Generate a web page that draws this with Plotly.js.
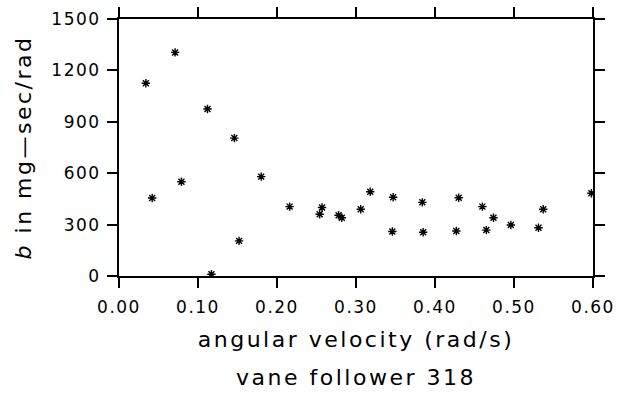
<!DOCTYPE html>
<html>
<head>
<meta charset="utf-8">
<script src="https://cdn.plot.ly/plotly-3.0.1.min.js"></script>
<style>
  html, body { margin: 0; padding: 0; background: #fff; }
  #chart { width: 626px; height: 393px; }
  .xtick text, .ytick text { letter-spacing: 1.5px; }
  .xtitle, .ytitle, .gtitle { letter-spacing: 2.5px; }
</style>
</head>
<body>
<div id="chart"></div>
<script>
// angular velocity (rad/s)
const angularVelocity = [0.034, 0.042, 0.071, 0.079, 0.112, 0.117, 0.146, 0.152, 0.180,
  0.216, 0.254, 0.257, 0.278, 0.282, 0.306, 0.318, 0.346, 0.347, 0.384, 0.385,
  0.427, 0.430, 0.460, 0.465, 0.474, 0.496, 0.531, 0.537, 0.598];
// b in mg-sec/rad
const bValues = [1125, 455, 1305, 550, 975, 10, 805, 205, 580,
  405, 360, 400, 355, 340, 390, 492, 260, 460, 430, 255,
  263, 457, 405, 268, 340, 298, 282, 390, 483];

const xTickVals = [0.0, 0.1, 0.2, 0.3, 0.4, 0.5, 0.6];
const xTickText = ['0.00', '0.10', '0.20', '0.30', '0.40', '0.50', '0.60'];
const yTickVals = [0, 300, 600, 900, 1200, 1500];
const yTickText = ['0', '300', '600', '900', '1200', '1500'];

const font = 'DejaVu Sans, sans-serif';

const trace = {
  x: angularVelocity,
  y: bValues,
  type: 'scatter',
  mode: 'markers',
  cliponaxis: true,
  marker: {
    symbol: 'asterisk-open',
    size: 7,
    color: '#000',
    line: { color: '#000', width: 1.4 }
  },
  hoverinfo: 'x+y'
};

const axisCommon = {
  showline: true,
  linecolor: '#000',
  linewidth: 2,
  mirror: 'ticks',
  ticks: 'outside',
  ticklen: 10,
  tickwidth: 2,
  tickcolor: '#000',
  showgrid: false,
  zeroline: false,
  tickfont: { family: font, size: 17, color: '#000' }
};

const layout = {
  width: 626,
  height: 393,
  margin: { l: 119, r: 33, t: 19, b: 117 },
  paper_bgcolor: '#fff',
  plot_bgcolor: '#fff',
  showlegend: false,
  font: { family: font, color: '#000' },
  title: {
    text: 'vane follower 318',
    font: { family: font, size: 22, color: '#000' },
    xref: 'paper', x: 0.5, xanchor: 'center',
    yref: 'container', y: 0.04, yanchor: 'middle'
  },
  xaxis: Object.assign({}, axisCommon, {
    range: [0, 0.6],
    tickvals: xTickVals,
    ticktext: xTickText,
    ticklabelstandoff: 5,
    title: { text: 'angular velocity (rad/s)', font: { family: font, size: 22, color: '#000' }, standoff: 15 }
  }),
  yaxis: Object.assign({}, axisCommon, {
    range: [0, 1500],
    tickvals: yTickVals,
    ticktext: yTickText,
    ticklabelstandoff: 3,
    title: { text: '<i>b</i> in mg—sec/rad', font: { family: font, size: 22, color: '#000' }, standoff: 14 }
  })
};

Plotly.newPlot('chart', [trace], layout, { displayModeBar: false, staticPlot: true });
</script>
</body>
</html>
